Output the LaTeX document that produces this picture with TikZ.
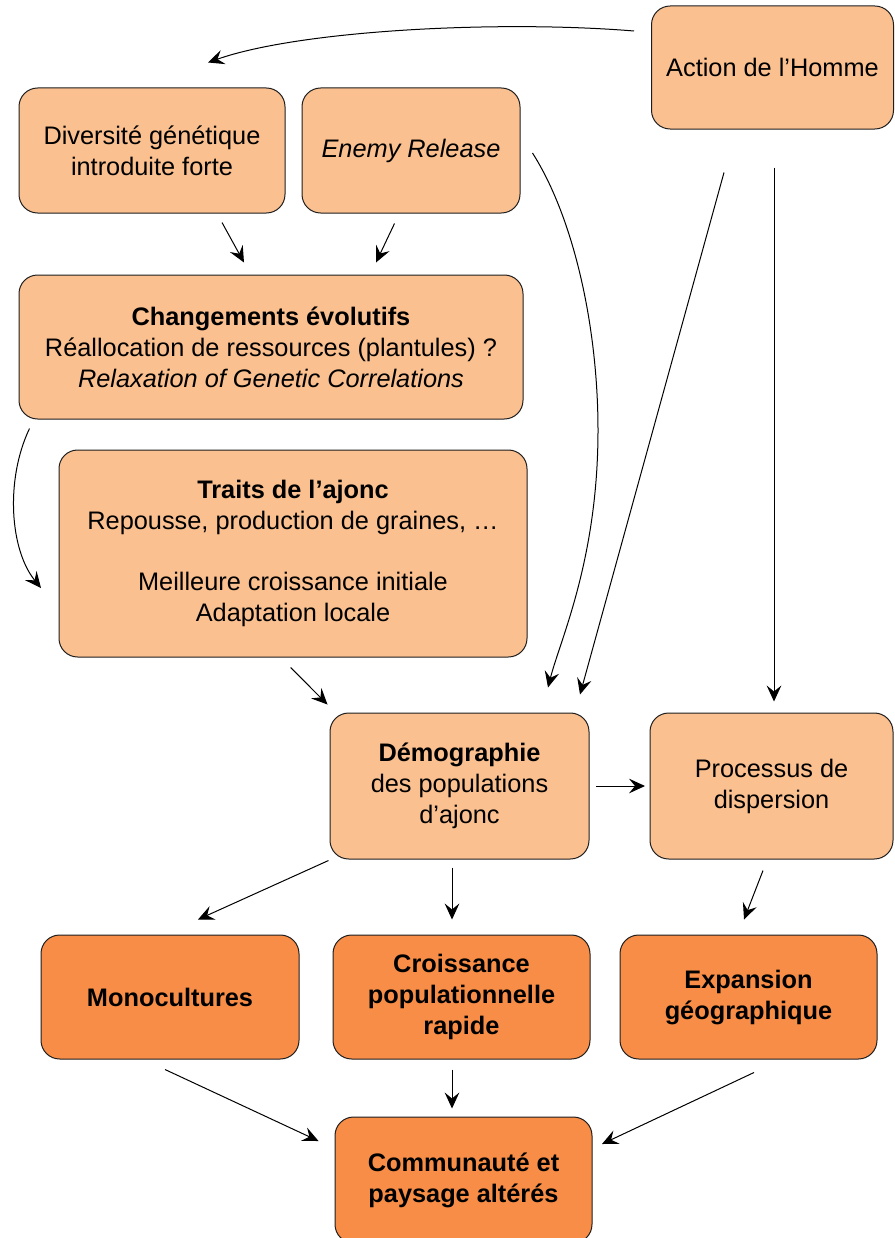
\documentclass[tikz,border=0pt]{standalone}
\usepackage{fontspec}
\setmainfont{Liberation Sans}
\usetikzlibrary{arrows.meta}

\definecolor{lightorange}{RGB}{250,192,144}
\definecolor{darkorange}{RGB}{247,141,71}
\definecolor{boxline}{RGB}{30,30,30}

\tikzset{every picture/.style={line width=0.75pt}}
\tikzset{
  box/.style={draw=boxline, fill=lightorange, rounded corners=14pt, align=center, inner sep=0pt,
    font=\fontsize{19}{23.25}\selectfont},
  resbox/.style={box, fill=darkorange, font=\fontsize{19}{23.25}\selectfont\bfseries},
  arr/.style={-{Stealth[length=12pt,width=11pt,inset=4.5pt]}, line width=0.75pt}
}

\begin{document}
\begin{tikzpicture}[x=0.75pt,y=0.75pt,yscale=-1,xscale=1]
		\useasboundingbox (0,0) rectangle (894,1238);

		% upper boxes
		\node [box, minimum width=181.5pt, minimum height=92.25pt] (act) at (772.5,67.5) {Action de l’Homme};
		\node [box, minimum width=199.5pt, minimum height=93.75pt] (div) at (152,150.5) {Diversité génétique\\introduite forte};
		\node [box, minimum width=163.5pt, minimum height=93.75pt] (ene) at (411,150.5) {\textit{Enemy Release}};
		\node [box, minimum width=378pt, minimum height=108pt] (chg) at (271,347) {\textbf{Changements évolutifs}\\Réallocation de ressources (plantules) ?\\\textit{Relaxation of Genetic Correlations}};
		\node [box, minimum width=351pt, minimum height=155.25pt] (tra) at (293,553.5) {\textbf{Traits de l’ajonc}\\Repousse, production de graines, …\\[22.5pt]Meilleure croissance initiale\\Adaptation locale};

		% middle boxes
		\node [box, minimum width=194.25pt, minimum height=109.5pt] (dem) at (459.5,786) {\textbf{Démographie}\\des populations\\d’ajonc};
		\node [box, minimum width=182.25pt, minimum height=109.5pt] (pro) at (771.5,786) {Processus de\\dispersion};

		% results
		\node [resbox, minimum width=193.5pt, minimum height=93pt] (mon) at (170,997) {Monocultures};
		\node [resbox, minimum width=192.75pt, minimum height=93pt] (cro) at (461.5,997) {Croissance\\populationnelle\\rapide};
		\node [resbox, minimum width=192.75pt, minimum height=93pt] (exp) at (748.5,997) {Expansion\\géographique};
		\node [resbox, minimum width=192.75pt, minimum height=94.5pt] (com) at (463.5,1180) {Communauté et\\paysage altérés};

		% connectors
		\draw [arr] ([shift={(-17,-36.5)}]act.west) .. controls (500,20) and (300,30) .. ([shift={(56,-25)}]div.north);
		\draw [arr] ([shift={(70,9)}]div.south) -- ([shift={(-27,-12)}]chg.north);
		\draw [arr] ([shift={(-16.5,10)}]ene.south) -- ([shift={(105,-12)}]chg.north);
		\draw [arr] ([shift={(12,2.5)}]ene.east) .. controls (575,220) and (598,330) .. (598,430) .. controls (598,560) and (560,640) .. ([shift={(88.5,-25)}]dem.north);
		\draw [arr] ([shift={(-48.5,43)}]act.south) -- ([shift={(120.5,-18)}]dem.north);
		\draw [arr] ([shift={(1.5,38)}]act.south) -- ([shift={(2.5,-11)}]pro.north);
		\draw [arr] ([shift={(11,9)}]chg.south west) .. controls (5,480) and (10,550) .. ([shift={(-17.5,34.5)}]tra.west);
		\draw [arr] ([shift={(-2.4,10)}]tra.south) -- ([shift={(-2,-8)}]dem.north west);
		\draw [arr] ([shift={(6.5,0)}]dem.east) -- ([shift={(-4.5,0)}]pro.west);
		\draw [arr] ([shift={(-1,1)}]dem.south west) -- ([shift={(28,-15)}]mon.north);
		\draw [arr] ([shift={(-7.5,8)}]dem.south) -- ([shift={(-9.5,-15)}]cro.north);
		\draw [arr] ([shift={(-8.5,11)}]pro.south) -- ([shift={(-4.5,-15)}]exp.north);
		\draw [arr] ([shift={(-5,10)}]mon.south) -- ([shift={(-16,-39)}]com.west);
		\draw [arr] ([shift={(-9.5,10)}]cro.south) -- ([shift={(-11.5,-8)}]com.north);
		\draw [arr] ([shift={(5.5,13)}]exp.south) -- ([shift={(9.5,-36)}]com.east);

\end{tikzpicture}
\end{document}
